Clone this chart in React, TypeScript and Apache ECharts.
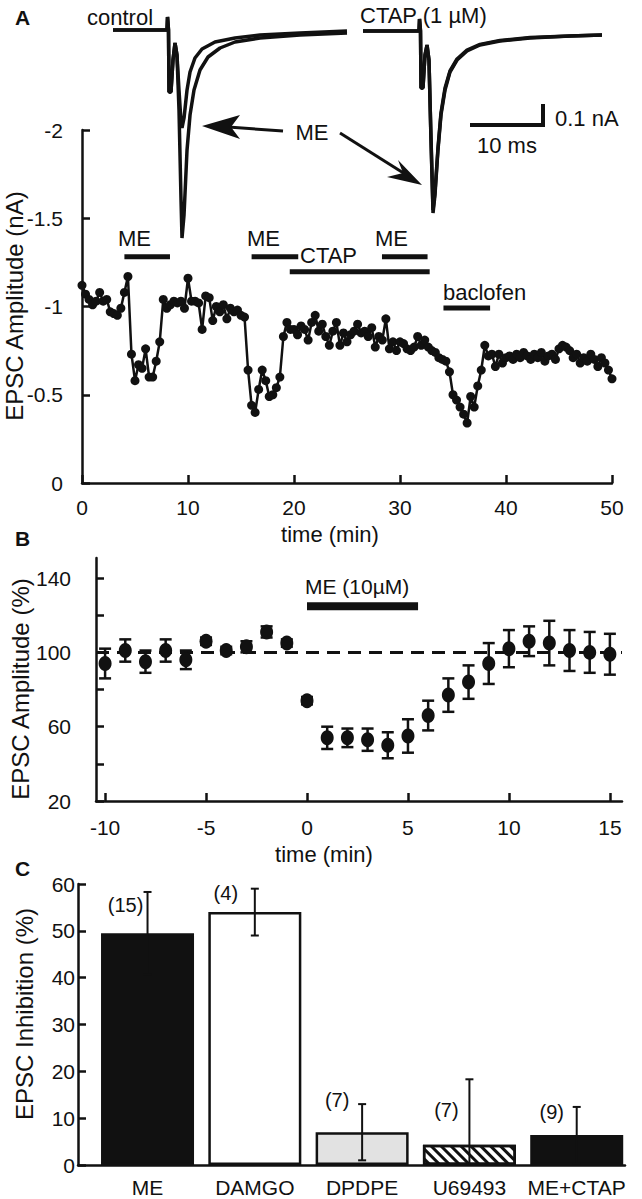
import React, { useEffect, useRef } from "react";
import * as echarts from "echarts";

const FONT = '"Liberation Sans", Arial, Helvetica, sans-serif';
const INK = "#111111";

// ---------- Panel A inset: EPSC traces (time in ms, current in nA) ----------
const traceControl = [
  [0, 0], [3.6, 0], [7.2, 0], [7.27, 0.065], [7.4, 0], [7.47, -0.31], [7.73, -0.31], [8.0, -0.15],
  [8.27, -0.065], [8.53, -0.125], [8.8, -0.4], [9.07, -0.85], [9.2, -1.04], [9.47, -0.925],
  [9.87, -0.6], [10.27, -0.425], [10.8, -0.3], [11.6, -0.2], [12.67, -0.135], [14.27, -0.09],
  [16.27, -0.06], [19.6, -0.04], [24.93, -0.025], [31.2, -0.015],
];
const traceControlME = [
  [0, 0], [3.6, 0], [7.2, 0], [7.27, 0.065], [7.4, 0], [7.47, -0.31], [7.73, -0.31], [8.0, -0.15],
  [8.27, -0.065], [8.53, -0.125], [8.8, -0.3], [9.07, -0.46], [9.2, -0.49], [9.47, -0.44],
  [9.87, -0.3], [10.27, -0.21], [10.93, -0.14], [11.87, -0.095], [13.6, -0.06], [16.27, -0.04],
  [19.6, -0.025], [24.93, -0.015], [31.2, -0.005],
];
const traceCTAP = [
  [33.33, -0.005], [36.93, -0.005], [40.8, -0.005], [40.87, 0.055], [41.0, -0.005], [41.07, -0.29],
  [41.33, -0.29], [41.6, -0.125], [41.87, -0.075], [42.13, -0.15], [42.4, -0.55], [42.67, -0.915],
  [42.93, -0.825], [43.33, -0.6], [43.73, -0.425], [44.27, -0.3], [44.93, -0.21], [45.87, -0.15],
  [47.2, -0.105], [48.93, -0.075], [51.6, -0.055], [55.6, -0.04], [60.93, -0.03], [65.2, -0.025],
];
const traceCTAPME = [
  [33.33, -0.005], [36.93, -0.005], [40.8, -0.005], [40.87, 0.055], [41.0, -0.005], [41.07, -0.29],
  [41.33, -0.29], [41.6, -0.125], [41.87, -0.075], [42.13, -0.15], [42.4, -0.54], [42.67, -0.9],
  [42.93, -0.81], [43.33, -0.59], [43.73, -0.415], [44.27, -0.29], [44.93, -0.205], [45.87, -0.145],
  [47.2, -0.1], [48.93, -0.072], [51.6, -0.052], [55.6, -0.038], [60.93, -0.03], [65.2, -0.025],
];

// ---------- Panel A: time course (nA), one sample every 20 s ----------
const sampleIntervalMin = 1 / 3;
const epscAmplitudeNA = [
  -1.12, -1.07, -1.04, -1.01, -1.03, -1.08, -1.03, -1.04, -0.97, -0.96,
  -0.95, -0.99, -1.08, -1.17, -0.73, -0.58, -0.67, -0.65, -0.76, -0.6,
  -0.6, -0.69, -0.8, -1.04, -0.99, -1.01, -1.03, -1.02, -1.03, -0.99,
  -1.16, -1.03, -1.03, -1.02, -0.87, -1.06, -1.05, -0.92, -1.0, -0.97,
  -1.01, -0.93, -0.99, -0.97, -0.98, -0.95, -0.94, -0.64, -0.44, -0.4,
  -0.53, -0.64, -0.58, -0.49, -0.5, -0.54, -0.6, -0.83, -0.91, -0.87,
  -0.87, -0.84, -0.89, -0.87, -0.81, -0.91, -0.95, -0.86, -0.9, -0.83,
  -0.78, -0.86, -0.91, -0.78, -0.85, -0.8, -0.84, -0.86, -0.9, -0.85,
  -0.86, -0.83, -0.88, -0.77, -0.83, -0.81, -0.93, -0.76, -0.8, -0.75,
  -0.8, -0.79, -0.76, -0.75, -0.77, -0.83, -0.78, -0.81, -0.77, -0.75,
  -0.74, -0.71, -0.7, -0.69, -0.63, -0.5, -0.47, -0.43, -0.39, -0.34,
  -0.49, -0.43, -0.55, -0.64, -0.78, -0.72, -0.73, -0.66, -0.73, -0.68,
  -0.71, -0.72, -0.7, -0.73, -0.71, -0.74, -0.72, -0.7, -0.73, -0.71,
  -0.74, -0.69, -0.72, -0.73, -0.7, -0.76, -0.78, -0.77, -0.75, -0.71,
  -0.73, -0.68, -0.71, -0.69, -0.73, -0.7, -0.66, -0.71, -0.68, -0.64,
  -0.59,
];
const treatmentLabels = ["ME", "ME", "CTAP", "ME", "baclofen"];
const treatmentStartMin = [4.0, 16.0, 19.6, 28.3, 34.1];
const treatmentEndMin = [8.3, 20.4, 32.8, 32.6, 38.5];

// ---------- Panel B ----------
const timeB = [-10, -9, -8, -7, -6, -5, -4, -3, -2, -1, 0, 1, 2, 3, 4, 5, 6, 7, 8, 9, 10, 11, 12, 13, 14, 15];
const epscPercentB = [94, 101, 95, 101, 96, 106, 101, 103, 111, 105, 74, 54, 54, 53, 50, 55, 66, 77, 84, 94, 102, 106, 105, 101, 100, 99];
const semB = [8, 6, 6, 6, 5, 2, 2, 3, 3, 2, 2, 6, 5, 6, 7, 9, 8, 9, 9, 11, 10, 8, 12, 11, 11, 11];
const meApplicationB = [0, 5.5];
const baselinePercent = 100;

// ---------- Panel C ----------
const drugs = ["ME", "DAMGO", "DPDPE", "U69493", "ME+CTAP"];
const inhibition = [49.5, 54, 7, 4.3, 6.4];
const inhibitionErr = [8.8, 5, 6, 14, 6];
const nCells = [15, 4, 7, 7, 9];

const txt = (text: string, x: number, y: number, size: number, opts: any = {}) => ({
  type: "text",
  x,
  y,
  rotation: opts.rotation || 0,
  silent: true,
  style: {
    text,
    font: `${opts.bold ? "bold " : ""}${size}px ${FONT}`,
    fill: INK,
    textAlign: opts.align || "left",
    align: opts.align || "left",
    textVerticalAlign: "middle",
    verticalAlign: "middle",
  },
});

const App: React.FC = () => {
  const ref = useRef<HTMLDivElement>(null);

  useEffect(() => {
    if (!ref.current) return;
    const chart = echarts.init(ref.current, undefined, { renderer: "svg" });

    const axisLineStyle = { color: INK, width: 2.5 };
    const labelStyle = { color: INK, fontSize: 21, fontFamily: FONT };

    const errB = (params: any, api: any) => {
      const x = api.value(0), y = api.value(1), e = api.value(2);
      const p1 = api.coord([x, y + e]);
      const p2 = api.coord([x, y - e]);
      const hw = 6;
      const st = { stroke: INK, lineWidth: 2.5 };
      return {
        type: "group",
        children: [
          { type: "line", shape: { x1: p1[0], y1: p1[1], x2: p2[0], y2: p2[1] }, style: st },
          { type: "line", shape: { x1: p1[0] - hw, y1: p1[1], x2: p1[0] + hw, y2: p1[1] }, style: st },
          { type: "line", shape: { x1: p2[0] - hw, y1: p2[1], x2: p2[0] + hw, y2: p2[1] }, style: st },
        ],
      };
    };

    const errC = (params: any, api: any) => {
      const x = api.value(0), y = api.value(1), e = api.value(2);
      const lo = Math.max(0, y - e);
      const p1 = api.coord([x, y + e]);
      const p2 = api.coord([x, lo]);
      const hw = 4;
      const st = { stroke: INK, lineWidth: 2 };
      const children: any[] = [
        { type: "line", shape: { x1: p1[0], y1: p1[1], x2: p2[0], y2: p2[1] }, style: st },
        { type: "line", shape: { x1: p1[0] - hw, y1: p1[1], x2: p1[0] + hw, y2: p1[1] }, style: st },
      ];
      if (y - e >= 0) {
        children.push({ type: "line", shape: { x1: p2[0] - hw, y1: p2[1], x2: p2[0] + hw, y2: p2[1] }, style: st });
      }
      return { type: "group", children };
    };

    const treatmentLevel = (label: string) =>
      label === "CTAP" ? -1.197 : label === "baclofen" ? -0.991 : -1.282;

    const treatmentSeries = treatmentLabels.map((label, i) => ({
      type: "line",
      xAxisIndex: 1,
      yAxisIndex: 1,
      data: [
        [treatmentStartMin[i], treatmentLevel(label)],
        [treatmentEndMin[i], treatmentLevel(label)],
      ],
      symbol: "none",
      lineStyle: { color: INK, width: 5 },
      silent: true,
      z: 4,
    }));

    const traceSeries = [traceControl, traceControlME, traceCTAP, traceCTAPME].map((d) => ({
      type: "line",
      xAxisIndex: 0,
      yAxisIndex: 0,
      data: d,
      symbol: "none",
      lineStyle: { color: INK, width: 3.5 },
      silent: true,
      z: 6,
    }));

    const barItemStyles = [
      { color: INK, borderColor: INK, borderWidth: 2.5 },
      { color: "#ffffff", borderColor: INK, borderWidth: 2.5 },
      { color: "#e2e2e2", borderColor: INK, borderWidth: 2.5 },
      {
        color: "#ffffff",
        borderColor: INK,
        borderWidth: 2.5,
        decal: {
          symbol: "rect",
          symbolSize: 1,
          dashArrayX: [1, 0],
          dashArrayY: [3, 4],
          rotation: Math.PI / 4,
          color: INK,
        },
      },
      { color: INK, borderColor: INK, borderWidth: 2.5 },
    ];
    const labelPlacement = [
      { distance: 18, offset: [-22, 0] },
      { distance: 9, offset: [-29, 0] },
      { distance: 22, offset: [-25, 0] },
      { distance: 25, offset: [-23, 0] },
      { distance: 13, offset: [-25, 0] },
    ];

    const option: any = {
      animation: false,
      backgroundColor: "#ffffff",
      textStyle: { fontFamily: FONT },
      grid: [
        { left: 113, top: 0, width: 525, height: 250 },
        { left: 82, top: 130, width: 530, height: 353 },
        { left: 96, top: 558, width: 526, height: 243 },
        { left: 78, top: 884, width: 547, height: 281 },
      ],
      xAxis: [
        { gridIndex: 0, type: "value", min: 0, max: 70, show: false },
        {
          gridIndex: 1, type: "value", min: 0, max: 50, interval: 10,
          axisLine: { show: true, onZero: false, lineStyle: axisLineStyle },
          axisTick: { show: true, inside: true, length: 8, lineStyle: axisLineStyle },
          axisLabel: { ...labelStyle, margin: 14 },
          splitLine: { show: false },
        },
        {
          gridIndex: 2, type: "value", min: -10.45, max: 15.6,
          axisLine: { show: true, onZero: false, lineStyle: axisLineStyle },
          axisTick: { show: true, inside: true, length: 8, lineStyle: axisLineStyle, customValues: [-10, -5, 0, 5, 10, 15] },
          axisLabel: { ...labelStyle, margin: 16, customValues: [-10, -5, 0, 5, 10, 15] },
          splitLine: { show: false },
        },
        {
          gridIndex: 3, type: "value", min: -0.648, max: 4.45,
          axisLine: { show: true, onZero: false, lineStyle: axisLineStyle },
          axisTick: { show: false },
          axisLabel: {
            ...labelStyle, margin: 12,
            customValues: [0, 1, 2, 3, 4],
            formatter: (v: number) => drugs[Math.round(v)] ?? "",
          },
          splitLine: { show: false },
        },
      ],
      yAxis: [
        { gridIndex: 0, type: "value", min: -1.1, max: 0.15, show: false },
        {
          gridIndex: 1, type: "value", min: -2, max: 0, interval: 0.5, inverse: true,
          axisLine: { show: true, onZero: false, lineStyle: axisLineStyle },
          axisTick: { show: true, inside: true, length: 8, lineStyle: axisLineStyle },
          axisLabel: { ...labelStyle, margin: 19, formatter: (v: number) => String(v) },
          splitLine: { show: false },
        },
        {
          gridIndex: 2, type: "value", min: 20, max: 150.8,
          axisLine: { show: true, onZero: false, lineStyle: axisLineStyle },
          axisTick: { show: true, inside: true, length: 8, lineStyle: axisLineStyle, customValues: [20, 40, 60, 80, 100, 120, 140] },
          axisLabel: { ...labelStyle, margin: 25, customValues: [20, 60, 100, 140] },
          splitLine: { show: false },
        },
        {
          gridIndex: 3, type: "value", min: 0, max: 60, interval: 10,
          axisLine: { show: true, onZero: false, lineStyle: axisLineStyle },
          axisTick: { show: true, inside: true, length: 8, lineStyle: axisLineStyle },
          axisLabel: { ...labelStyle, margin: 3 },
          splitLine: { show: false },
        },
      ],
      series: [
        ...traceSeries,
        {
          type: "line",
          xAxisIndex: 1,
          yAxisIndex: 1,
          data: epscAmplitudeNA.map((v, i) => [i * sampleIntervalMin, v]),
          symbol: "circle",
          symbolSize: 9,
          showAllSymbol: true,
          itemStyle: { color: INK },
          lineStyle: { color: INK, width: 2.5 },
          silent: true,
          z: 3,
        },
        ...treatmentSeries,
        // Panel B
        {
          type: "line",
          xAxisIndex: 2,
          yAxisIndex: 2,
          data: [[-10.45, baselinePercent], [15.6, baselinePercent]],
          symbol: "none",
          lineStyle: { color: INK, width: 3, type: [13, 8] },
          silent: true,
          z: 1,
        },
        {
          type: "line",
          xAxisIndex: 2,
          yAxisIndex: 2,
          data: [[meApplicationB[0], 124.8], [meApplicationB[1], 124.8]],
          symbol: "none",
          lineStyle: { color: INK, width: 8 },
          silent: true,
          z: 2,
        },
        {
          type: "custom",
          xAxisIndex: 2,
          yAxisIndex: 2,
          renderItem: errB,
          data: timeB.map((t, i) => [t, epscPercentB[i], semB[i]]),
          encode: { x: 0, y: 1 },
          silent: true,
          z: 2,
        },
        {
          type: "scatter",
          xAxisIndex: 2,
          yAxisIndex: 2,
          data: timeB.map((t, i) => [t, epscPercentB[i]]),
          symbol: "circle",
          symbolSize: [13, 15],
          itemStyle: { color: INK, opacity: 1 },
          silent: true,
          z: 3,
        },
        // Panel C
        {
          type: "bar",
          xAxisIndex: 3,
          yAxisIndex: 3,
          barWidth: 93,
          data: inhibition.map((v, i) => ({
            value: [i, v],
            itemStyle: barItemStyles[i],
            label: labelPlacement[i],
          })),
          label: {
            show: true,
            position: "top",
            color: INK,
            fontSize: 20,
            fontFamily: FONT,
            formatter: (p: any) => `(${nCells[p.dataIndex]})`,
          },
          silent: true,
          z: 2,
        },
        {
          type: "custom",
          xAxisIndex: 3,
          yAxisIndex: 3,
          renderItem: errC,
          data: inhibition.map((v, i) => [i, v, inhibitionErr[i]]),
          encode: { x: 0, y: 1 },
          silent: true,
          z: 4,
        },
      ],
      graphic: [
        txt("A", 15, 17, 21, { bold: true }),
        txt("B", 15, 538, 21, { bold: true }),
        txt("C", 15, 868, 21, { bold: true }),
        txt("control", 87, 17, 22),
        txt("CTAP (1 \u00b5M)", 360, 15, 22),
        txt("ME", 312, 132, 22, { align: "center" }),
        { type: "line", silent: true, shape: { x1: 283, y1: 131, x2: 228, y2: 127 }, style: { stroke: INK, lineWidth: 3 } },
        { type: "polygon", silent: true, shape: { points: [[202, 126], [240, 115], [231, 127], [240, 139]] }, style: { fill: INK } },
        { type: "line", silent: true, shape: { x1: 340, y1: 133, x2: 405, y2: 174 }, style: { stroke: INK, lineWidth: 3 } },
        { type: "polygon", silent: true, shape: { points: [[422, 185], [398, 160], [403, 173], [387, 177]] }, style: { fill: INK } },
        { type: "line", silent: true, shape: { x1: 470, y1: 125, x2: 545, y2: 125 }, style: { stroke: INK, lineWidth: 4 } },
        { type: "line", silent: true, shape: { x1: 543, y1: 104, x2: 543, y2: 127 }, style: { stroke: INK, lineWidth: 4 } },
        txt("0.1 nA", 555, 118, 22),
        txt("10 ms", 477, 145, 22),
        txt(treatmentLabels[0], 118, 238, 22),
        txt(treatmentLabels[1], 247, 238, 22),
        txt(treatmentLabels[2], 300, 255, 22),
        txt(treatmentLabels[3], 375, 238, 22),
        txt(treatmentLabels[4], 443, 292, 22),
        txt("ME (10\u00b5M)", 305, 586, 21),
        txt("EPSC Amplitude (nA)", 14, 306, 24, { align: "center", rotation: Math.PI / 2 }),
        txt("time (min)", 330, 534, 22, { align: "center" }),
        txt("EPSC Amplitude (%)", 20, 689, 24, { align: "center", rotation: Math.PI / 2 }),
        txt("time (min)", 324, 854, 22, { align: "center" }),
        txt("EPSC Inhibition (%)", 24, 1014, 24, { align: "center", rotation: Math.PI / 2 }),
      ],
    };

    chart.setOption(option);
    return () => chart.dispose();
  }, []);

  return (
    <div
      ref={ref}
      style={{ position: "absolute", left: 0, top: 0, width: 642, height: 1199, background: "#fff" }}
    />
  );
};

export default App;
